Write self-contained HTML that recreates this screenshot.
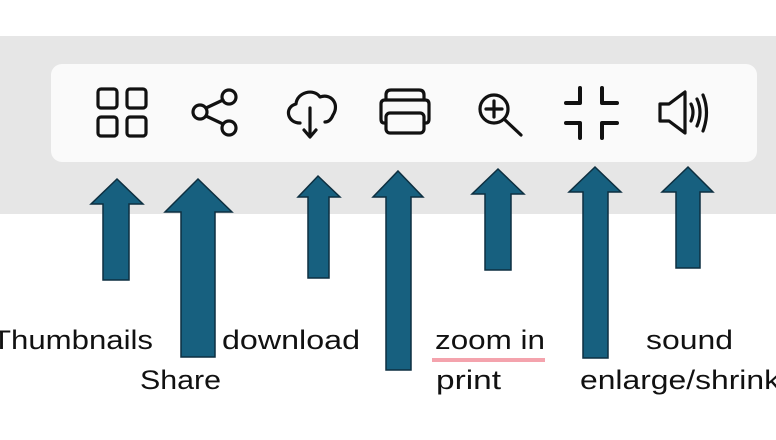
<!DOCTYPE html>
<html><head><style>
body{margin:0;width:776px;height:435px;overflow:hidden;background:#fff;font-family:"Liberation Sans",sans-serif}
</style></head><body>
<svg width="776" height="435" viewBox="0 0 776 435" xmlns="http://www.w3.org/2000/svg">
<rect x="0" y="36" width="776" height="178" fill="#e6e6e6"/>
<rect x="51" y="64" width="706" height="98" rx="11" fill="#fafafa"/>
<g fill="none" stroke="#111" stroke-width="3.2" stroke-linecap="round" stroke-linejoin="round">
<rect x="98" y="89" width="19" height="19" rx="3"/><rect x="127" y="89" width="19" height="19" rx="3"/>
<rect x="98" y="117" width="19" height="19" rx="3"/><rect x="127" y="117" width="19" height="19" rx="3"/>
<circle cx="200" cy="112" r="7"/><circle cx="229" cy="97" r="7"/><circle cx="229" cy="128" r="7"/>
<path d="M206 108 L223 100 M206 116 L223 124"/>
<path d="M300 123 C287 123 284 107 296 104 C297 92 314 88 320 97 C331 93 340 104 333 115 C331 120 328 122 325 122"/>
<path d="M310 108 V136 M304 130 L310 137 L316 130"/>
<path d="M386 100 V95 Q386 90 391 90 H419 Q424 90 424 95 V100"/>
<path d="M386 123 H384 Q381 123 381 119 V104 Q381 100 385 100 H425 Q429 100 429 104 V119 Q429 123 426 123 H424"/>
<rect x="386" y="113" width="38" height="20" rx="4"/>
<circle cx="494" cy="109" r="14"/><path d="M486 109 H502 M494 101 V117 M504 119 L521 135"/>
<path d="M580 88 V103 H566 M602 88 V103 H617 M580 138 V123 H566 M602 138 V123 H617" stroke-width="4"/>
<path d="M660 104 H669 L685 92 V133 L669 121 H660 Z"/>
<path d="M691 104 Q695 112 691 121 M697 99 Q703 112 697 126 M703 95 Q710 112 703 131"/>
</g>
<g fill="#17607f" stroke="#0d2f40" stroke-width="1.5">
<path d="M117 179 L143 204 L129 204 L129 280 L103 280 L103 204 L91 204 Z"/>
<path d="M198 179 L232 212 L215 212 L215 357 L181 357 L181 212 L165 212 Z"/>
<path d="M318 176 L340 197 L329 197 L329 278 L308 278 L308 197 L298 197 Z"/>
<path d="M398 171 L423 197 L411 197 L411 370 L386 370 L386 197 L373 197 Z"/>
<path d="M498 169 L524 194 L511 194 L511 270 L485 270 L485 194 L472 194 Z"/>
<path d="M595 167 L621 192 L608 192 L608 358 L583 358 L583 192 L569 192 Z"/>
<path d="M688 167 L713 192 L700 192 L700 268 L676 268 L676 192 L662 192 Z"/>
</g>
<rect x="432" y="358" width="113" height="4" fill="#f4a3ad"/>
<g font-family="Liberation Sans, sans-serif" font-size="27" fill="#111">
<text x="-8" y="349" textLength="161" lengthAdjust="spacingAndGlyphs">Thumbnails</text>
<text x="222" y="349" textLength="138" lengthAdjust="spacingAndGlyphs">download</text>
<text x="140" y="389" textLength="81" lengthAdjust="spacingAndGlyphs">Share</text>
<text x="435" y="349" textLength="110" lengthAdjust="spacingAndGlyphs">zoom in</text>
<text x="436" y="389" textLength="65" lengthAdjust="spacingAndGlyphs">print</text>
<text x="646" y="349" textLength="87" lengthAdjust="spacingAndGlyphs">sound</text>
<text x="580" y="389" textLength="200" lengthAdjust="spacingAndGlyphs">enlarge/shrink</text>
</g>
</svg>
</body></html>
